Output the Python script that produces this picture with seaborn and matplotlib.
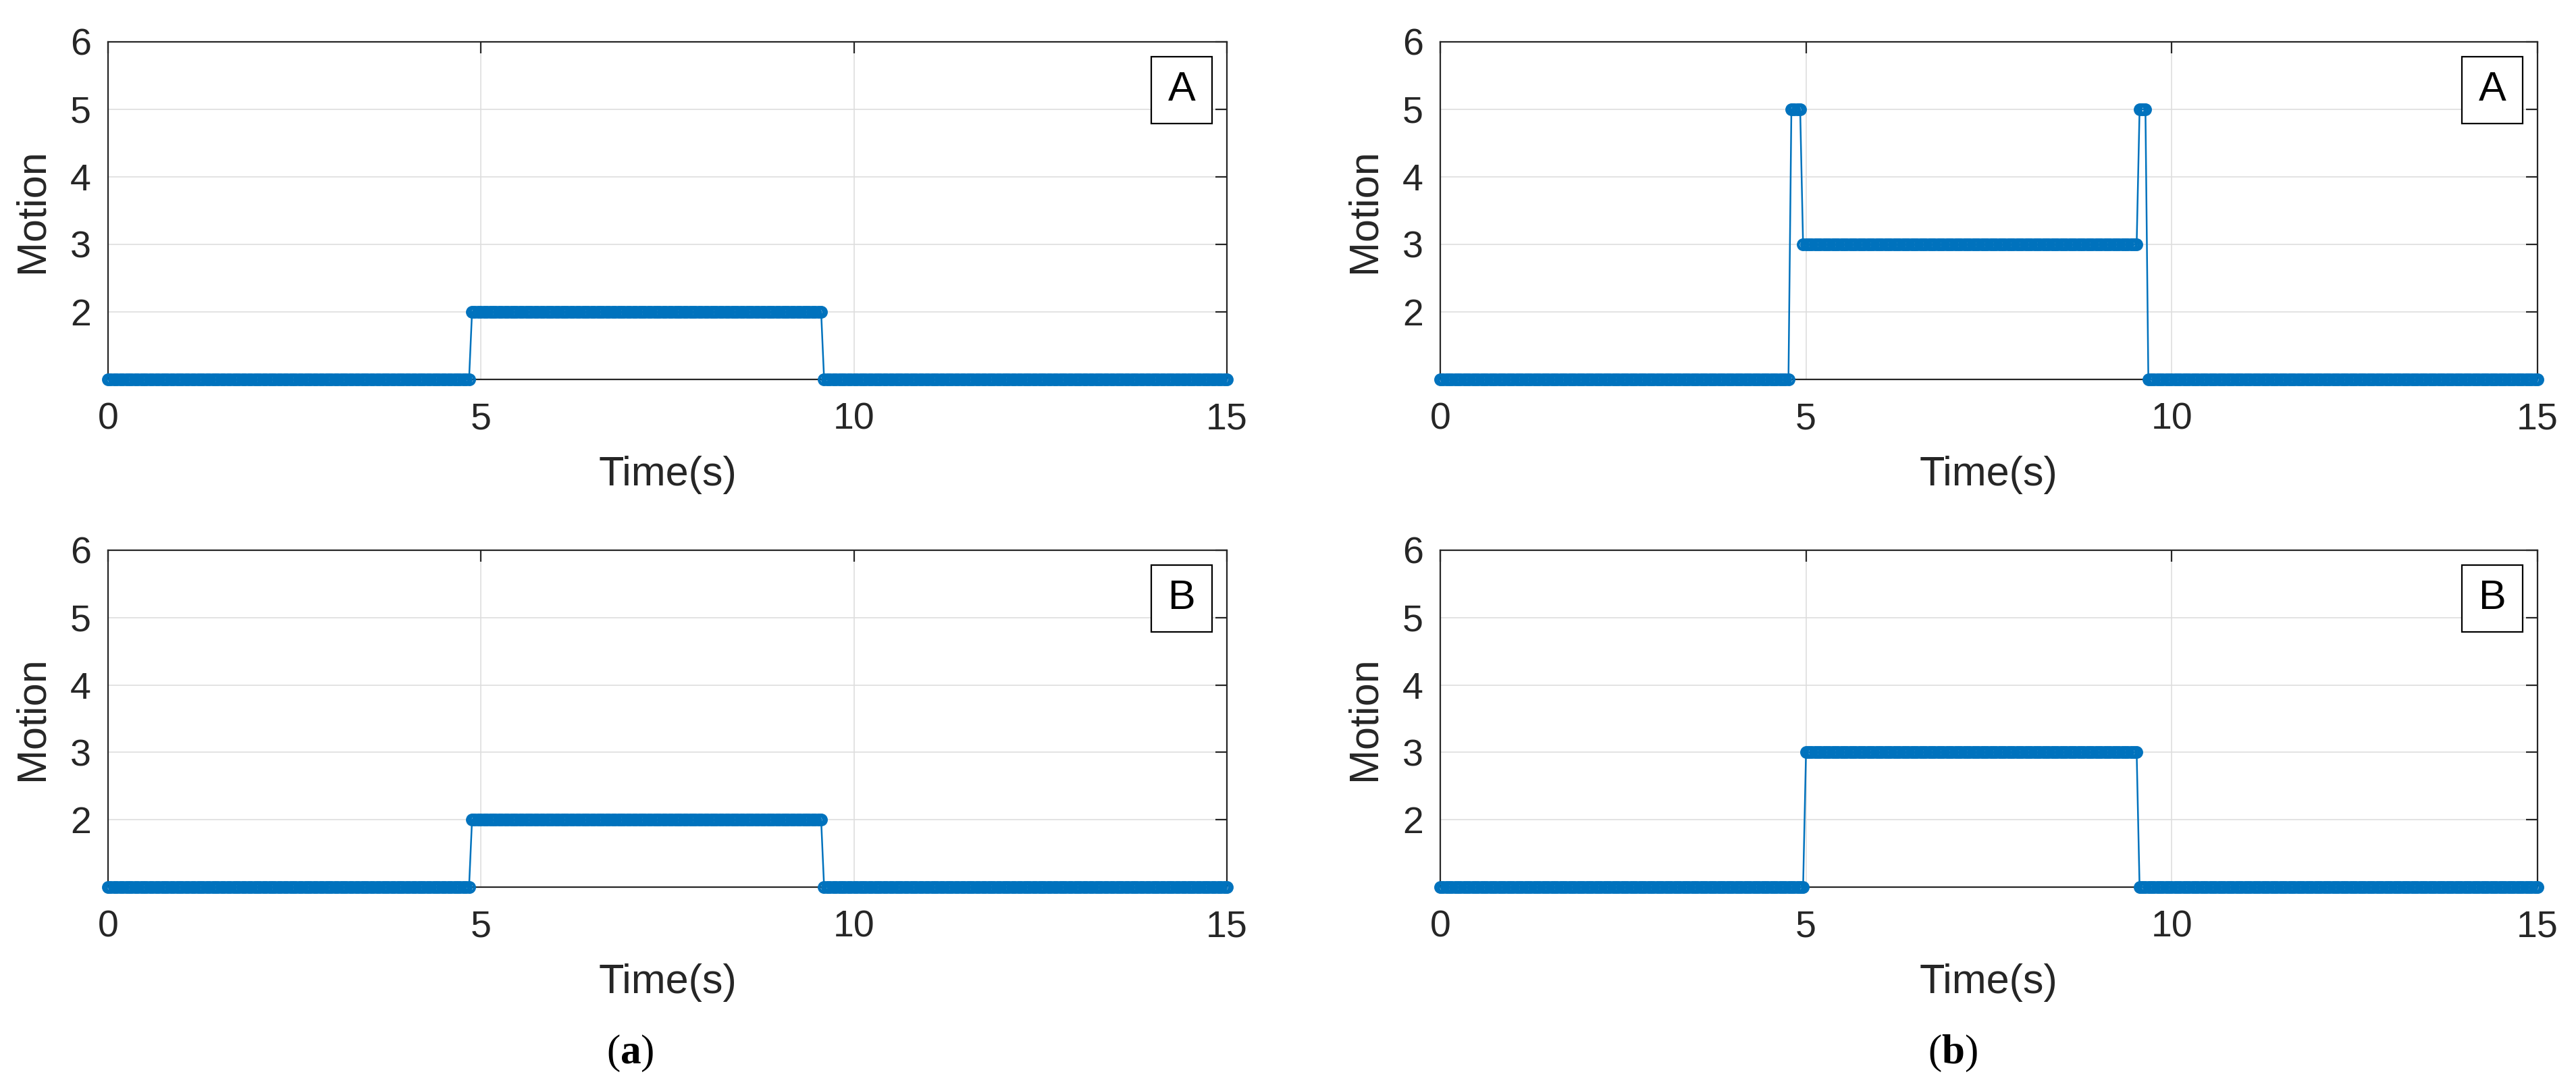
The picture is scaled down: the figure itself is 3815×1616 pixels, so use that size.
import numpy as np
import pandas as pd
import seaborn as sns
import matplotlib.pyplot as plt
from matplotlib.patches import Rectangle

# Sample spacing of the recorded motion signal (s) and run-length encoded levels
dt = 0.04
n_samples = 376

# (a) upper / lower: motion level and number of consecutive samples at that level
a_top_levels = [1, 2, 1]
a_top_counts = [122, 118, 136]
a_bot_levels = [1, 2, 1]
a_bot_counts = [122, 118, 136]

# (b) upper / lower
b_top_levels = [1, 5, 3, 5, 1]
b_top_counts = [120, 4, 115, 3, 134]
b_bot_levels = [1, 3, 1]
b_bot_counts = [125, 114, 137]

panel_tags = ['A', 'B', 'A', 'B']
x_ticks = [0, 5, 10, 15]
y_ticks = [2, 3, 4, 5, 6]

sns.set_theme(style='white')
plt.rcParams['font.family'] = ['Liberation Sans', 'DejaVu Sans']
plt.rcParams['mathtext.fontset'] = 'custom'
plt.rcParams['mathtext.rm'] = 'Liberation Serif'
plt.rcParams['mathtext.bf'] = 'Liberation Serif:bold'

FIG_W, FIG_H, DPI = 19.08, 8.08, 200
fig = plt.figure(figsize=(FIG_W, FIG_H), dpi=DPI)

W, H = FIG_W * DPI, FIG_H * DPI
left_cols = [(160, 1817), (2133, 3758)]
rows = [(62, 562), (815, 1314)]

series = [
    (a_top_levels, a_top_counts), (a_bot_levels, a_bot_counts),
    (b_top_levels, b_top_counts), (b_bot_levels, b_bot_counts),
]

blue = '#0072BD'
dark = '#262626'

k = 0
for c, (x0, x1) in enumerate(left_cols):
    for r, (y0, y1) in enumerate(rows):
        ax = fig.add_axes([x0 / W, 1 - y1 / H, (x1 - x0) / W, (y1 - y0) / H])
        levels, counts = series[k]
        motion = np.repeat(levels, counts)
        df = pd.DataFrame({'Time': np.arange(n_samples) * dt, 'Motion': motion})
        sns.lineplot(data=df, x='Time', y='Motion', ax=ax, estimator=None, sort=False,
                     color=blue, linewidth=0.9, marker='o', markersize=5.2,
                     markerfacecolor='none', markeredgecolor=blue, markeredgewidth=1.6,
                     clip_on=False, zorder=3)
        ax.set_xlim(0, 15)
        ax.set_ylim(1, 6)
        ax.set_xticks(x_ticks)
        ax.set_yticks(y_ticks)
        ax.grid(True, color='#dedede', linewidth=0.6)
        ax.set_axisbelow(True)
        for s in ax.spines.values():
            s.set_color(dark)
            s.set_linewidth(0.8)
        ax.tick_params(direction='in', length=6, width=0.8, color=dark, labelcolor=dark,
                       labelsize=20, top=True, right=True)
        ax.tick_params(axis='x', pad=12)
        ax.tick_params(axis='y', pad=9)
        ax.set_xlabel('Time(s)', fontsize=22, color=dark, labelpad=10)
        ax.set_ylabel('Motion', fontsize=22, color=dark, labelpad=10)

        # tag box in the upper right corner
        aw, ah = x1 - x0, y1 - y0
        bw, bh, off = 90, 99, 22
        ax.add_patch(Rectangle((1 - (off + bw) / aw, 1 - (off + bh) / ah), bw / aw, bh / ah,
                               transform=ax.transAxes, facecolor='white', edgecolor='black',
                               linewidth=0.8, zorder=5))
        ax.text(1 - (off + bw / 2) / aw, 1 - (off + bh / 2) / ah, panel_tags[k],
                transform=ax.transAxes, ha='center', va='center', fontsize=22,
                color='black', zorder=6)
        k += 1

fig.text(933 / W, 1 - 1560 / H, r'$\mathrm{(}\mathbf{a}\mathrm{)}$', ha='center', va='center',
         fontsize=22, color='black')
fig.text(2892 / W, 1 - 1560 / H, r'$\mathrm{(}\mathbf{b}\mathrm{)}$', ha='center', va='center',
         fontsize=22, color='black')

fig.savefig('out.png', dpi=DPI, facecolor='white')
